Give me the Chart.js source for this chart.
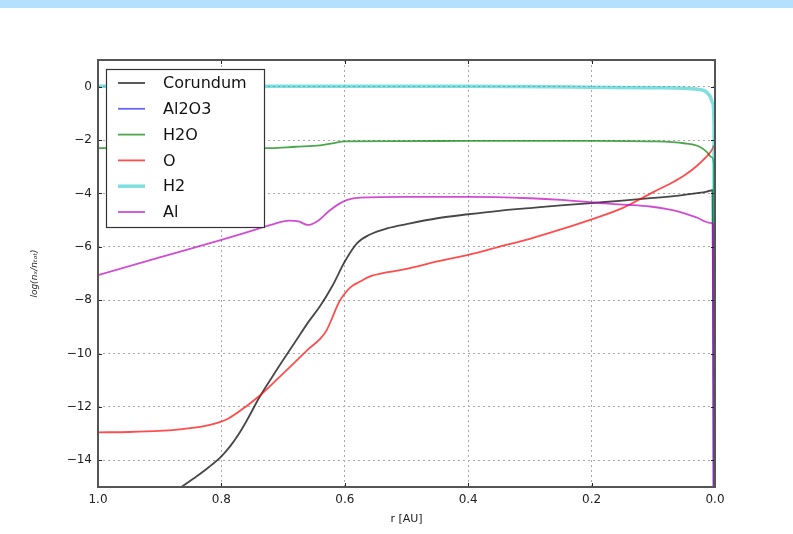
<!DOCTYPE html>
<html><head><meta charset="utf-8">
<script src="https://cdn.jsdelivr.net/npm/chart.js@4"></script>
<style>
html,body{margin:0;padding:0;background:#fff;}
#wrap{position:relative;width:793px;height:534px;}
#band{position:absolute;left:0;top:0;width:793px;height:8px;background:#b4e0fd;}
canvas{position:absolute;left:0;top:0;}
</style>
</head><body>
<div id="wrap"><canvas id="c" width="793" height="534"></canvas><div id="band"></div></div>
<script>
// ---- data ----
const xTicks = [1.0, 0.8, 0.6, 0.4, 0.2, 0.0];
const yTicks = [0, -2, -4, -6, -8, -10, -12, -14];
const seriesNames = ["Corundum", "Al2O3", "H2O", "O", "H2", "Al"];

const corundumR = [0.865, 0.84, 0.82, 0.80, 0.785, 0.77, 0.755, 0.74, 0.71, 0.68, 0.66, 0.64, 0.62, 0.60, 0.58, 0.56, 0.53, 0.50, 0.45, 0.40, 0.35, 0.30, 0.25, 0.20, 0.15, 0.10, 0.05, 0.013, 0.004, 0.002];
const corundumV = [-15, -14.6, -14.25, -13.85, -13.45, -12.95, -12.35, -11.7, -10.6, -9.55, -8.85, -8.22, -7.46, -6.55, -5.86, -5.55, -5.3, -5.15, -4.93, -4.78, -4.65, -4.55, -4.45, -4.36, -4.27, -4.17, -4.05, -3.93, -3.88, -16];

const al2o3R = [];
const al2o3V = [];

const h2oR = [1.0, 0.9, 0.8, 0.72, 0.68, 0.64, 0.62, 0.60, 0.5, 0.4, 0.3, 0.2, 0.1, 0.05, 0.025, 0.013, 0.005, 0.002, 0.0015];
const h2oV = [-2.3, -2.29, -2.28, -2.3, -2.25, -2.2, -2.12, -2.05, -2.04, -2.03, -2.03, -2.03, -2.05, -2.12, -2.25, -2.45, -2.65, -2.9, -16];

const oR = [1.0, 0.95, 0.90, 0.86, 0.82, 0.79, 0.76, 0.74, 0.71, 0.68, 0.66, 0.64, 0.63, 0.62, 0.61, 0.60, 0.59, 0.575, 0.56, 0.53, 0.50, 0.45, 0.40, 0.35, 0.30, 0.25, 0.20, 0.15, 0.10, 0.07, 0.05, 0.03, 0.015, 0.005, 0.002];
const oV = [-12.95, -12.94, -12.9, -12.82, -12.68, -12.45, -11.98, -11.62, -10.97, -10.3, -9.85, -9.45, -9.15, -8.64, -8.1, -7.75, -7.5, -7.3, -7.12, -6.95, -6.83, -6.55, -6.3, -6.0, -5.7, -5.35, -4.97, -4.55, -3.95, -3.6, -3.33, -2.98, -2.65, -2.37, -2.2];

const h2R = [1.0, 0.8, 0.6, 0.4, 0.2, 0.1, 0.05, 0.024, 0.015, 0.008, 0.004, 0.0015, 0.001];
const h2V = [0.02, 0.02, 0.02, 0.02, -0.02, -0.04, -0.06, -0.11, -0.18, -0.36, -0.6, -1.5, -16];

const alR = [1.0, 0.9, 0.8, 0.754, 0.72, 0.69, 0.675, 0.66, 0.645, 0.625, 0.61, 0.596, 0.575, 0.5, 0.4, 0.3, 0.25, 0.186, 0.15, 0.105, 0.075, 0.052, 0.03, 0.008, 0.003, 0.002];
const alV = [-7.06, -6.4, -5.74, -5.42, -5.18, -5.02, -5.05, -5.18, -5.05, -4.65, -4.4, -4.24, -4.16, -4.13, -4.13, -4.18, -4.24, -4.36, -4.42, -4.49, -4.6, -4.73, -4.9, -5.1, -5.15, -16];

const rArrays = [corundumR, al2o3R, h2oR, oR, h2R, alR];
const vArrays = [corundumV, al2o3V, h2oV, oV, h2V, alV];
const colors = ["rgba(0,0,0,0.72)", "rgba(0,0,255,0.6)", "rgba(0,128,0,0.7)", "rgba(255,0,0,0.7)", "rgba(0,191,191,0.5)", "rgba(191,0,191,0.7)"];
const widths = [1.8, 1.8, 1.8, 1.8, 3.5, 1.8];

const datasets = seriesNames.map((name, i) => ({
  label: name,
  data: rArrays[i].map((r, k) => ({x: r, y: vArrays[i][k]})),
  borderColor: colors[i],
  borderWidth: widths[i],
  pointRadius: 0,
  fill: false,
  cubicInterpolationMode: 'monotone',
  order: seriesNames.length - i
}));

const FONT = "'DejaVu Sans', sans-serif";

const framePlugin = {
  id: 'frame',
  afterDatasetsDraw(chart) {
    const {ctx, chartArea: a, scales: {x, y}} = chart;
    ctx.save();
    ctx.strokeStyle = '#222';
    ctx.lineWidth = 1;
    ctx.beginPath();
    xTicks.forEach(v => {
      const px = Math.round(x.getPixelForValue(v)) + 0.5;
      ctx.moveTo(px, a.bottom); ctx.lineTo(px, a.bottom - 4);
      ctx.moveTo(px, a.top); ctx.lineTo(px, a.top + 4);
    });
    yTicks.forEach(v => {
      const py = Math.round(y.getPixelForValue(v)) + 0.5;
      ctx.moveTo(a.left, py); ctx.lineTo(a.left + 4, py);
      ctx.moveTo(a.right, py); ctx.lineTo(a.right - 4, py);
    });
    ctx.stroke();
    ctx.strokeStyle = '#555';
    ctx.lineWidth = 2;
    ctx.strokeRect(a.left, a.top, a.width, a.height);

    // legend box (upper left, inside plot)
    const bx = 106, by = 69, bw = 158, bh = 158;
    ctx.fillStyle = '#fff';
    ctx.fillRect(bx, by, bw, bh);
    ctx.strokeStyle = '#333';
    ctx.lineWidth = 1.2;
    ctx.strokeRect(bx + 0.5, by + 0.5, bw, bh);
    ctx.font = '16px ' + FONT;
    ctx.textBaseline = 'middle';
    chart.data.datasets.forEach((ds, i) => {
      const cy = 83 + i * 25.8;
      ctx.strokeStyle = ds.borderColor;
      ctx.lineWidth = ds.borderWidth;
      ctx.beginPath();
      ctx.moveTo(118, cy); ctx.lineTo(145, cy);
      ctx.stroke();
      ctx.fillStyle = '#111';
      ctx.fillText(ds.label, 163, cy + 1);
    });
    ctx.restore();
  }
};

new Chart(document.getElementById('c'), {
  type: 'line',
  data: {datasets},
  options: {
    responsive: false,
    animation: false,
    layout: {padding: {left: 29, top: 60, right: 78, bottom: 0}},
    plugins: {legend: {display: false}, tooltip: {enabled: false}},
    scales: {
      x: {
        type: 'linear', min: 0, max: 1, reverse: true,
        afterBuildTicks: s => { s.ticks = xTicks.map(v => ({value: v})); },
        afterFit: s => { s.height = 47; },
        grid: {color: '#aaa', lineWidth: 1, drawTicks: false},
        border: {display: false, dash: [2, 3]},
        ticks: {padding: 6, color: '#222', font: {family: FONT, size: 12}, maxRotation: 0,
                callback: v => Number(v).toFixed(1)},
        title: {display: true, text: 'r [AU]', color: '#222', font: {family: FONT, size: 11}, padding: {top: 2, bottom: 8}}
      },
      y: {
        type: 'linear', min: -15, max: 1,
        afterBuildTicks: s => { s.ticks = yTicks.map(v => ({value: v})); },
        afterFit: s => { s.width = 69; },
        grid: {color: '#aaa', lineWidth: 1, drawTicks: false},
        border: {display: false, dash: [2, 3]},
        ticks: {padding: 6, color: '#222', font: {family: FONT, size: 12},
                callback: v => v < 0 ? '\u2212' + Math.abs(v) : String(v)},
        title: {display: true, text: 'log(nₓ/nₜₒₜ)', color: '#222', font: {family: FONT, size: 9, style: 'italic'}, padding: 0}
      }
    }
  },
  plugins: [framePlugin]
});
</script>
</body></html>
